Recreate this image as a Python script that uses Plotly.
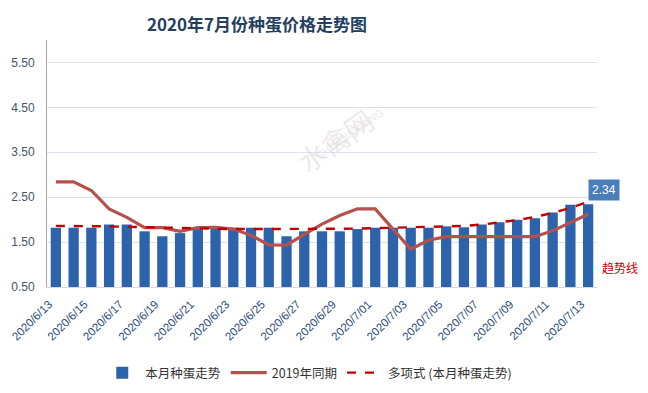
import plotly.graph_objects as go

dates = ["2020/6/13","2020/6/14","2020/6/15","2020/6/16","2020/6/17","2020/6/18","2020/6/19",
         "2020/6/20","2020/6/21","2020/6/22","2020/6/23","2020/6/24","2020/6/25","2020/6/26",
         "2020/6/27","2020/6/28","2020/6/29","2020/6/30","2020/7/01","2020/7/02","2020/7/03",
         "2020/7/04","2020/7/05","2020/7/06","2020/7/07","2020/7/08","2020/7/09","2020/7/10",
         "2020/7/11","2020/7/12","2020/7/13"]

this_month = [1.82,1.82,1.82,1.89,1.89,1.74,1.63,1.70,1.79,1.82,1.82,1.82,1.82,1.63,
              1.74,1.74,1.74,1.79,1.82,1.82,1.82,1.82,1.85,1.83,1.89,1.94,2.00,2.03,
              2.16,2.33,2.34]

last_year = [2.84,2.84,2.65,2.24,2.05,1.82,1.82,1.74,1.82,1.83,1.79,1.65,1.44,1.43,
             1.67,1.90,2.09,2.24,2.24,1.79,1.34,1.54,1.62,1.62,1.62,1.62,1.62,1.62,
             1.75,1.94,2.12]

trend = [1.86,1.86,1.85,1.85,1.84,1.83,1.82,1.81,1.80,1.80,1.79,1.79,1.79,1.79,
         1.79,1.79,1.79,1.80,1.81,1.82,1.82,1.83,1.84,1.86,1.89,1.94,1.99,2.06,
         2.15,2.26,2.40]

tick_labels = dates[::2]
y_ticks = [0.5, 1.5, 2.5, 3.5, 4.5, 5.5]

FONT = "Liberation Sans, Noto Sans CJK SC, sans-serif"
CJK = "Noto Sans CJK SC, sans-serif"

fig = go.Figure()
fig.add_trace(go.Bar(
    x=dates, y=this_month, name="本月种蛋走势",
    marker=dict(color="#2d63ab", line=dict(width=0)),
    width=0.58,
))
fig.add_trace(go.Scatter(
    x=dates, y=last_year, name="2019年同期", mode="lines",
    line=dict(color="#b5514d", width=3.2),
))
fig.add_trace(go.Scatter(
    x=dates, y=trend, name="多项式 (本月种蛋走势)", mode="lines",
    line=dict(color="#c00000", width=2.4, dash="dash"),
))

fig.add_annotation(
    x=dates[-1], y=this_month[-1], xref="x", yref="y",
    text="2.34", showarrow=False, xanchor="left", yanchor="bottom",
    xshift=0, yshift=3,
    font=dict(family=FONT, size=12, color="white"),
    bgcolor="#4a7ebb", borderpad=3,
)
fig.add_annotation(
    x=1.078, y=0.078, xref="paper", yref="paper",
    text="趋势线", showarrow=False, xanchor="right", yanchor="middle",
    font=dict(family=CJK, size=12, color="#c00000"),
)
# faint watermark
fig.add_annotation(
    x=0.524, y=0.77, xref="paper", yref="paper",
    text="水禽网", showarrow=False, textangle=-35,
    font=dict(family=CJK, size=28, color="rgba(200,190,195,0.35)"),
)
fig.add_annotation(
    x=0.55, y=0.62, xref="paper", yref="paper",
    text="SHUIQINWANG", showarrow=False, textangle=-35,
    font=dict(family=FONT, size=11, color="rgba(200,190,195,0.35)"),
)

fig.update_layout(
    width=648, height=393,
    margin=dict(l=47, r=51, t=40, b=106, autoexpand=False),
    paper_bgcolor="white", plot_bgcolor="white",
    title=dict(
        text="<b>2020年7月份种蛋价格走势图</b>",
        x=257/648, xanchor="center", y=1 - 25/393, yanchor="middle",
        font=dict(family=CJK, size=17, color="#243f60"),
    ),
    bargap=0.4,
    showlegend=True,
    legend=dict(
        orientation="h", x=0.475, xanchor="center",
        yref="container", y=1 - 373/393, yanchor="middle",
        font=dict(family=CJK, size=12.5, color="#333333"),
        itemwidth=36, tracegroupgap=0,
    ),
    xaxis=dict(
        type="category", tickmode="array", tickvals=tick_labels, ticktext=tick_labels,
        tickangle=-45, showgrid=False, showline=True, linecolor="#d9d9d9", linewidth=1,
        ticks="", tickfont=dict(family=FONT, size=11.5, color="#2a4a7a"),
        ticklabelshift=-7, ticklabelstandoff=5, automargin=False,
        range=[-0.5, len(dates) - 0.5],
    ),
    yaxis=dict(
        range=[0.5, 6.0], tickmode="array", tickvals=y_ticks,
        ticktext=[f"{v:.2f}" for v in y_ticks],
        showgrid=True, gridcolor="#dde3ee", gridwidth=1,
        showline=True, linecolor="#a6a6a6", linewidth=1,
        zeroline=False, ticks="", ticklen=0, ticklabelstandoff=9, automargin=False,
        tickfont=dict(family=FONT, size=12, color="#44546a"),
    ),
)

fig.write_html("out.html", config={"displayModeBar": False},
               post_script="document.body.style.margin='0';")
